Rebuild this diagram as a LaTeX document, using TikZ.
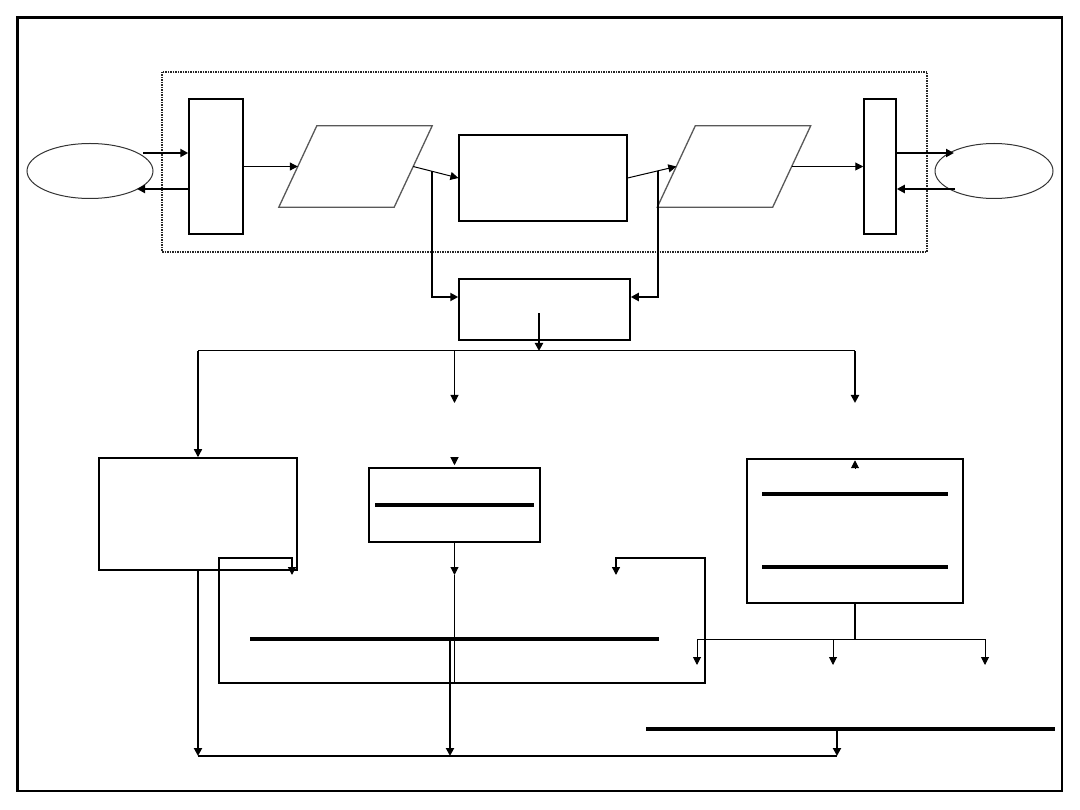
\documentclass[tikz,border=0pt]{standalone}
\usetikzlibrary{arrows.meta,shapes.geometric,calc}

% slanted outline round a media node
\newcommand{\slantbox}[1]{%
  \draw[draw=black!65, line width=1.3pt, line join=miter]
    ([xshift=-19pt]#1.south west) -- ([xshift=-19pt]#1.south east)
    -- ([xshift=19pt]#1.north east) -- ([xshift=19pt]#1.north west) -- cycle;}

\begin{document}
\begin{tikzpicture}[
  x=1pt, y=-1pt,
  box/.style={draw, line width=1.5pt, inner sep=0pt},
  port/.style={ellipse, draw=black!80, line width=1pt, minimum width=#1, minimum height=55pt, inner sep=0pt},
  media/.style={minimum width=115pt, minimum height=81pt, inner sep=0pt},
  bar/.style={fill=black, minimum width=409pt, minimum height=4pt, inner sep=0pt},
  arr/.style={-{Triangle[length=8pt,width=8pt]}},
  arrboth/.style={{Triangle[length=8pt,width=8pt]}-{Triangle[length=8pt,width=8pt]}},
  wire/.style={line width=1pt},
  mid/.style={line width=1.4pt},
  heavy/.style={line width=2pt}
]
  \fill[white] (0,0) rectangle (1080,810);
  \useasboundingbox (0,0) rectangle (1080,810);

  % frame and group
  \draw[line width=2.5pt] (17.5,17.5) rectangle (1062,791);
  \draw[line width=1.5pt, dash pattern=on 1.5pt off 1pt, black!85] (162,72) rectangle (927,252);

  % top row
  \node[port=126pt] (srcL) at (90,171) {};
  \node[box, minimum width=54pt, minimum height=135pt] (ifL) at (216,166.5) {};
  \node[media] (parL) at (355.5,166.5) {};
  \node[box, line width=1.2pt, minimum width=168pt, minimum height=86pt] (core) at (543,178) {};
  \node[media] (parR) at (734,166.5) {};
  \node[box, minimum width=32pt, minimum height=135pt] (ifR) at (880,166.5) {};
  \node[port=118pt] (dstR) at (994,171) {};
  \node[box, minimum width=171pt, minimum height=61pt] (store) at (544.5,309.5) {};
  \slantbox{parL}
  \slantbox{parR}

  % lower row
  \node[box, minimum width=198pt, minimum height=112pt] (boxA) at (198,514) {};
  \node[box, minimum width=171pt, minimum height=74pt] (boxB) at (454.5,505) {};
  \node[box, minimum width=216pt, minimum height=144pt] (boxC) at (855,531) {};
  \node[bar] (barA) at (454.5,639) {};
  \node[bar] (barB) at (850.5,729) {};

  \coordinate (inL) at (143,153);
  \coordinate (outL) at (137,189);
  \coordinate (outR) at (954,153);
  \coordinate (inR) at (955,189);
  \coordinate (busTop) at (539,351);
  \coordinate (dropB) at (454.5,403);
  \coordinate (dropC) at (855,403);
  \coordinate (dropB2) at (454.5,575);
  \coordinate (loopL) at (292,575);
  \coordinate (loopNW) at (219,558);
  \coordinate (loopSE) at (705,683);
  \coordinate (loopNE) at (616,558);
  \coordinate (loopR) at (616,575);
  \coordinate (fanC) at (855,639);
  \coordinate (outC1) at (697,665);
  \coordinate (outC2) at (833,665);
  \coordinate (outC3) at (985,665);
  \coordinate (base) at (837,756);

  % top connectors
  \draw[heavy,arr] (inL) -- (inL -| ifL.west);
  \draw[heavy,arr] (outL -| ifL.west) -- (outL);
  \draw[wire,arr] (ifL.east) -- (parL.west);
  \draw[wire,arr] (parL.east) -- (core.west);
  \draw[heavy,arr] ($(parL.east)!0.42!(core.west)$) |- ([yshift=12.5pt]store.west);
  \draw[wire,arr] (core.east) -- (parR.west);
  \draw[heavy,arr] ($(core.east)!0.62!(parR.west)$) |- ([yshift=12.5pt]store.east);
  \draw[wire,arr] (parR.east) -- (ifR.west);
  \draw[heavy,arr] (outR -| ifR.east) -- (outR);
  \draw[heavy,arr] (inR) -- (inR -| ifR.east);

  % distribution
  \draw[heavy,arr] ([yshift=-4pt]store.center -| busTop) -- (busTop);
  \draw[wire] (busTop -| boxA.north) -- (busTop -| dropC);
  \draw[mid,arr] (busTop -| boxA.north) -- (boxA.north);
  \draw[wire,arr] (busTop -| dropB) -- (dropB);
  \draw[heavy,arr] (busTop -| dropC) -- (dropC);
  \draw[wire,arr] ([yshift=10pt]boxB.north) -- ([yshift=2pt]boxB.north);
  \draw[wire,arr] ([yshift=-10pt]boxC.north) -- ([yshift=-2pt]boxC.north);

  % bars inside boxes
  \draw[line width=4pt] ([xshift=7pt]boxB.west) -- ([xshift=-7pt]boxB.east);
  \draw[line width=4pt] ([xshift=16pt,yshift=37pt]boxC.west) -- ([xshift=-16pt,yshift=37pt]boxC.east);
  \draw[line width=4pt] ([xshift=16pt,yshift=-36pt]boxC.west) -- ([xshift=-16pt,yshift=-36pt]boxC.east);

  % lower connectors
  \draw[wire,arr] (boxB.south) -- (dropB2);
  \draw[wire] (dropB2) -- (dropB2 |- loopSE);
  \draw[mid,arrboth] (loopL) |- (loopNW) |- (loopSE) |- (loopNE) -- (loopR);
  \draw[heavy] (boxC.south) -- (fanC);
  \draw[wire,arr] (fanC) -| (outC1);
  \draw[wire,arr] (fanC) -| (outC2);
  \draw[wire,arr] (fanC) -| (outC3);
  \draw[heavy,arr] (boxA.south) -- (boxA.south |- base);
  \draw[heavy,arr] ([xshift=-4.5pt]barA.center) -- ([xshift=-4.5pt]barA.center |- base);
  \draw[heavy,arr] (barB.center -| base) -- (base);
  \draw[mid] (boxA.south |- base) -- (base);
\end{tikzpicture}
\end{document}
